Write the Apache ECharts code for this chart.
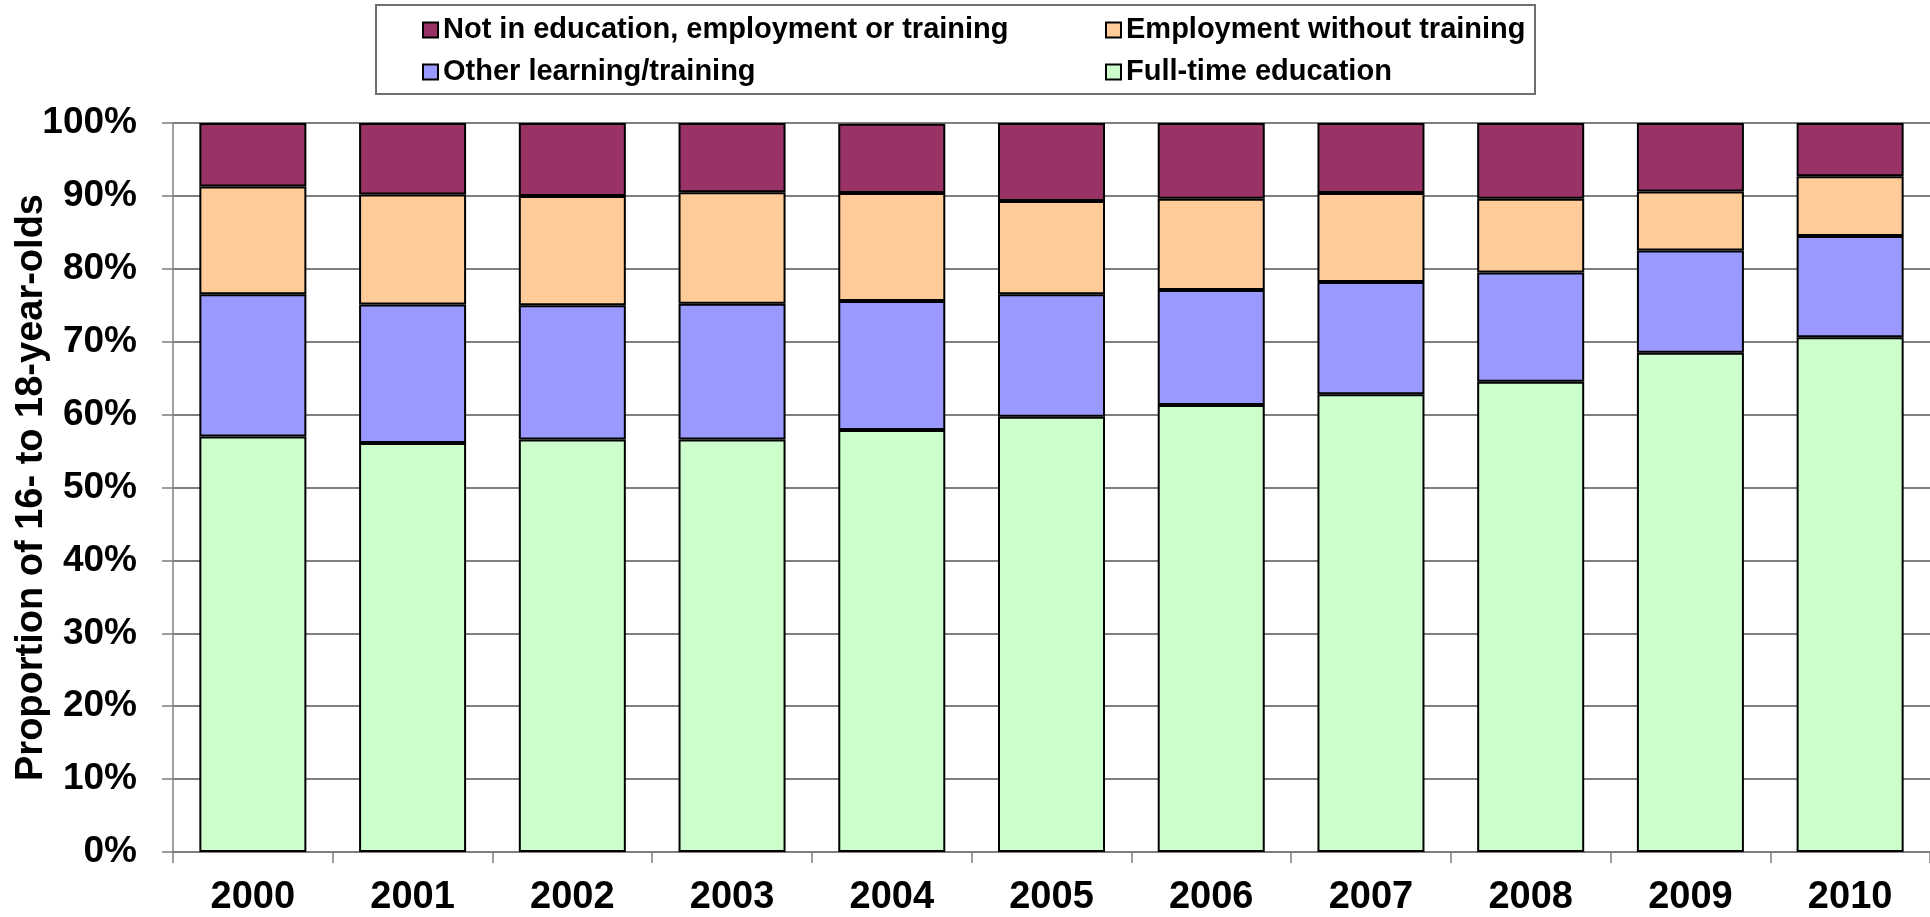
<!DOCTYPE html>
<html>
<head>
<meta charset="utf-8">
<script src="https://cdn.jsdelivr.net/npm/echarts@6/dist/echarts.min.js"></script>
<style>
html,body{margin:0;padding:0;background:#fff;}
#chart{width:1930px;height:917px;}
</style>
</head>
<body>
<div id="chart"></div>
<script>
const years = ['2000','2001','2002','2003','2004','2005','2006','2007','2008','2009','2010'];
const fullTime = [57.0, 56.1, 56.6, 56.6, 57.9, 59.7, 61.3, 62.8, 64.5, 68.5, 70.6];
const otherLearning = [19.5, 19.0, 18.4, 18.6, 17.7, 16.8, 15.8, 15.4, 15.0, 14.0, 13.9];
const employmentNoTraining = [14.8, 15.1, 15.0, 15.3, 14.8, 12.8, 12.5, 12.2, 10.1, 8.1, 8.2];
const neet = [8.7, 9.8, 10.0, 9.5, 9.5, 10.7, 10.4, 9.6, 10.4, 9.4, 7.3];
const yTicks = [0, 10, 20, 30, 40, 50, 60, 70, 80, 90, 100];

const NAMES = {
  neet: 'Not in education, employment or training',
  emp: 'Employment without training',
  other: 'Other learning/training',
  ft: 'Full-time education'
};
const FONT = '"Liberation Sans", Arial, sans-serif';
const legendText = {fontFamily: FONT, fontWeight: 'bold', fontSize: 29, color: '#000', lineHeight: 32};

function bar(name, data, color) {
  return {
    name: name, type: 'bar', stack: 'total', data: data,
    barCategoryGap: '33%',
    itemStyle: {color: color, borderColor: '#000', borderWidth: 2},
    emphasis: {disabled: true}
  };
}

const chart = echarts.init(document.getElementById('chart'), null, {renderer: 'canvas'});
chart.setOption({
  animation: false,
  backgroundColor: '#fff',
  graphic: [{
    type: 'rect', left: 375, top: 4, z: -1,
    shape: {width: 1159, height: 89},
    style: {fill: '#fff', stroke: '#6f6f6f', lineWidth: 2}
  }],
  legend: [{
    orient: 'vertical', left: 422, top: 14, itemGap: 10, padding: 0,
    itemWidth: 15, itemHeight: 15, icon: 'rect',
    data: [NAMES.neet, NAMES.other],
    textStyle: legendText
  }, {
    orient: 'vertical', left: 1105, top: 14, itemGap: 10, padding: 0,
    itemWidth: 15, itemHeight: 15, icon: 'rect',
    data: [NAMES.emp, NAMES.ft],
    textStyle: legendText
  }],
  grid: {left: 173, right: 0, top: 123, bottom: 65, containLabel: false, outerBoundsMode: 'none'},
  xAxis: {
    type: 'category', data: years,
    axisLine: {lineStyle: {color: '#7f7f7f', width: 2}},
    axisTick: {show: true, length: 11, lineStyle: {color: '#7f7f7f', width: 1.5}},
    axisLabel: {margin: 27, color: '#000', fontFamily: FONT, fontWeight: 'bold', fontSize: 38}
  },
  yAxis: {
    type: 'value', min: yTicks[0], max: yTicks[yTicks.length - 1], interval: 10,
    name: 'Proportion of 16- to 18-year-olds',
    nameLocation: 'middle', nameGap: 122, nameRotate: 90, nameMoveOverlap: false,
    nameTextStyle: {color: '#000', fontFamily: FONT, fontWeight: 'bold', fontSize: 38},
    axisLine: {show: true, lineStyle: {color: '#7f7f7f', width: 1.5}},
    axisTick: {show: true, length: 11, lineStyle: {color: '#7f7f7f', width: 1.5}},
    splitLine: {show: true, lineStyle: {color: '#7f7f7f', width: 2}},
    axisLabel: {margin: 36, color: '#000', fontFamily: FONT, fontWeight: 'bold', fontSize: 37,
      formatter: '{value}%'}
  },
  series: [
    bar(NAMES.ft, fullTime, '#CCFFCC'),
    bar(NAMES.other, otherLearning, '#9999FF'),
    bar(NAMES.emp, employmentNoTraining, '#FFCC99'),
    bar(NAMES.neet, neet, '#993366')
  ]
});
</script>
</body>
</html>
